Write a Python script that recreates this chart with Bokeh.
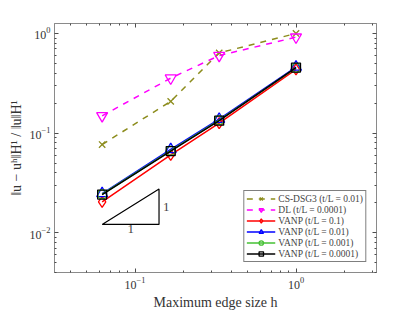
from bokeh.plotting import figure
from bokeh.models import (Range1d, LogAxis, FixedTicker, CustomJSTickFormatter,
                          LogTickFormatter, Label)
from bokeh.embed import file_html
from bokeh.resources import INLINE

# ---- data ----
h = [1/16, 1/6, 1/3, 1.0]
cs_dsg3 = [0.0767, 0.208, 0.638, 1.0]
dl = [0.149, 0.356, 0.60, 0.918]
vanp_01 = [0.0204, 0.0603, 0.1255, 0.437]
vanp_001 = [0.0247, 0.0685, 0.138, 0.46]
vanp_0001 = [0.0243, 0.0665, 0.135, 0.452]
vanp_00001 = [0.0241, 0.066, 0.133, 0.454]

slope_x = [0.0625, 0.141, 0.141, 0.0625]
slope_y = [0.0121, 0.0121, 0.0274, 0.0121]

x_major = [0.1, 1.0]
x_minor = [0.04, 0.05, 0.06, 0.07, 0.08, 0.09,
           0.2, 0.3, 0.4, 0.5, 0.6, 0.7, 0.8, 0.9, 2.0, 3.0]
y_major = [0.01, 0.1, 1.0]
y_minor = [0.004, 0.005, 0.006, 0.007, 0.008, 0.009,
           0.02, 0.03, 0.04, 0.05, 0.06, 0.07, 0.08, 0.09,
           0.2, 0.3, 0.4, 0.5, 0.6, 0.7, 0.8, 0.9]

FONT = "Liberation Serif"
AXIS_GRAY = "#8a8a8a"
TICK_GRAY = "#4d4d4d"

p = figure(width=415, height=312, x_axis_type="log", y_axis_type="log",
           x_range=Range1d(10**-1.5, 10**0.5), y_range=Range1d(10**-2.4, 10**0.1),
           output_backend="svg", toolbar_location=None,
           min_border_left=54, min_border_right=39, min_border_top=23, min_border_bottom=35)

p.grid.visible = False
p.outline_line_color = AXIS_GRAY
p.outline_line_width = 1
p.background_fill_color = "white"
p.border_fill_color = "white"

p.xaxis[0].ticker = FixedTicker(ticks=x_major, minor_ticks=x_minor)
p.yaxis[0].ticker = FixedTicker(ticks=y_major, minor_ticks=y_minor)
p.xaxis[0].formatter = LogTickFormatter()
p.yaxis[0].formatter = LogTickFormatter()

for ax in (p.xaxis[0], p.yaxis[0]):
    ax.axis_line_color = AXIS_GRAY
    ax.major_tick_line_color = TICK_GRAY
    ax.minor_tick_line_color = TICK_GRAY
    ax.major_tick_in = 4
    ax.major_tick_out = 0
    ax.minor_tick_in = 2
    ax.minor_tick_out = 0
    ax.major_label_text_font = FONT
    ax.major_label_text_font_size = "12px"
    ax.major_label_text_color = "#333333"
    ax.major_label_standoff = 4
    ax.axis_label_text_font = FONT
    ax.axis_label_text_font_size = "14px"
    ax.axis_label_text_font_style = "normal"
    ax.axis_label_text_color = "#333333"
    ax.axis_label_standoff = 3

p.xaxis.axis_label = "Maximum edge size h"
p.yaxis.axis_label = "‖u − uʰ‖H¹ / ‖u‖H¹"

for loc, maj, mnr in (("above", x_major, x_minor), ("right", y_major, y_minor)):
    ax = LogAxis(ticker=FixedTicker(ticks=maj, minor_ticks=mnr),
                 formatter=CustomJSTickFormatter(code="return ''"))
    ax.axis_line_color = AXIS_GRAY
    ax.major_tick_line_color = TICK_GRAY
    ax.minor_tick_line_color = TICK_GRAY
    ax.major_tick_in = 4
    ax.major_tick_out = 0
    ax.minor_tick_in = 2
    ax.minor_tick_out = 0
    ax.major_label_standoff = 0
    p.add_layout(ax, loc)

series = [
    ("CS-DSG3 (t/L = 0.01)", cs_dsg3, "#8c8c1c", "dashed", "x"),
    ("DL (t/L = 0.0001)", dl, "#ff00ff", "dashed", "inverted_triangle"),
    ("VANP (t/L = 0.1)", vanp_01, "#ff0000", "solid", "diamond"),
    ("VANP (t/L = 0.01)", vanp_001, "#0000ff", "solid", "triangle"),
    ("VANP (t/L = 0.001)", vanp_0001, "#44c033", "solid", "circle"),
    ("VANP (t/L = 0.0001)", vanp_00001, "#000000", "solid", "square"),
]
for label, ys, color, dash, marker in series:
    p.line(h, ys, line_color=color, line_width=1.5, line_dash=dash, legend_label=label)
    size = 11 if marker in ("diamond", "inverted_triangle", "triangle") else 9
    p.scatter(h, ys, marker=marker, size=size, line_color=color, line_width=1.3,
              fill_color=None, legend_label=label)

p.line(slope_x, slope_y, line_color="black", line_width=1.2)
p.add_layout(Label(x=0.141, y=0.0182, x_offset=4, text="1", text_font=FONT,
                   text_font_size="13px", text_baseline="middle", text_align="left"))
p.add_layout(Label(x=0.094, y=0.0121, y_offset=-1, text="1", text_font=FONT,
                   text_font_size="13px", text_baseline="top", text_align="center"))

lg = p.legend[0]
lg.location = "bottom_right"
lg.label_text_font = FONT
lg.label_text_font_size = "9.5px"
lg.label_height = 10
lg.glyph_height = 11
lg.glyph_width = 29
lg.label_standoff = 3
lg.spacing = 0
lg.padding = 2
lg.margin = 10
lg.border_line_color = "black"
lg.border_line_width = 0.8
lg.background_fill_alpha = 1

open("out.html", "w").write(file_html(p, INLINE))
